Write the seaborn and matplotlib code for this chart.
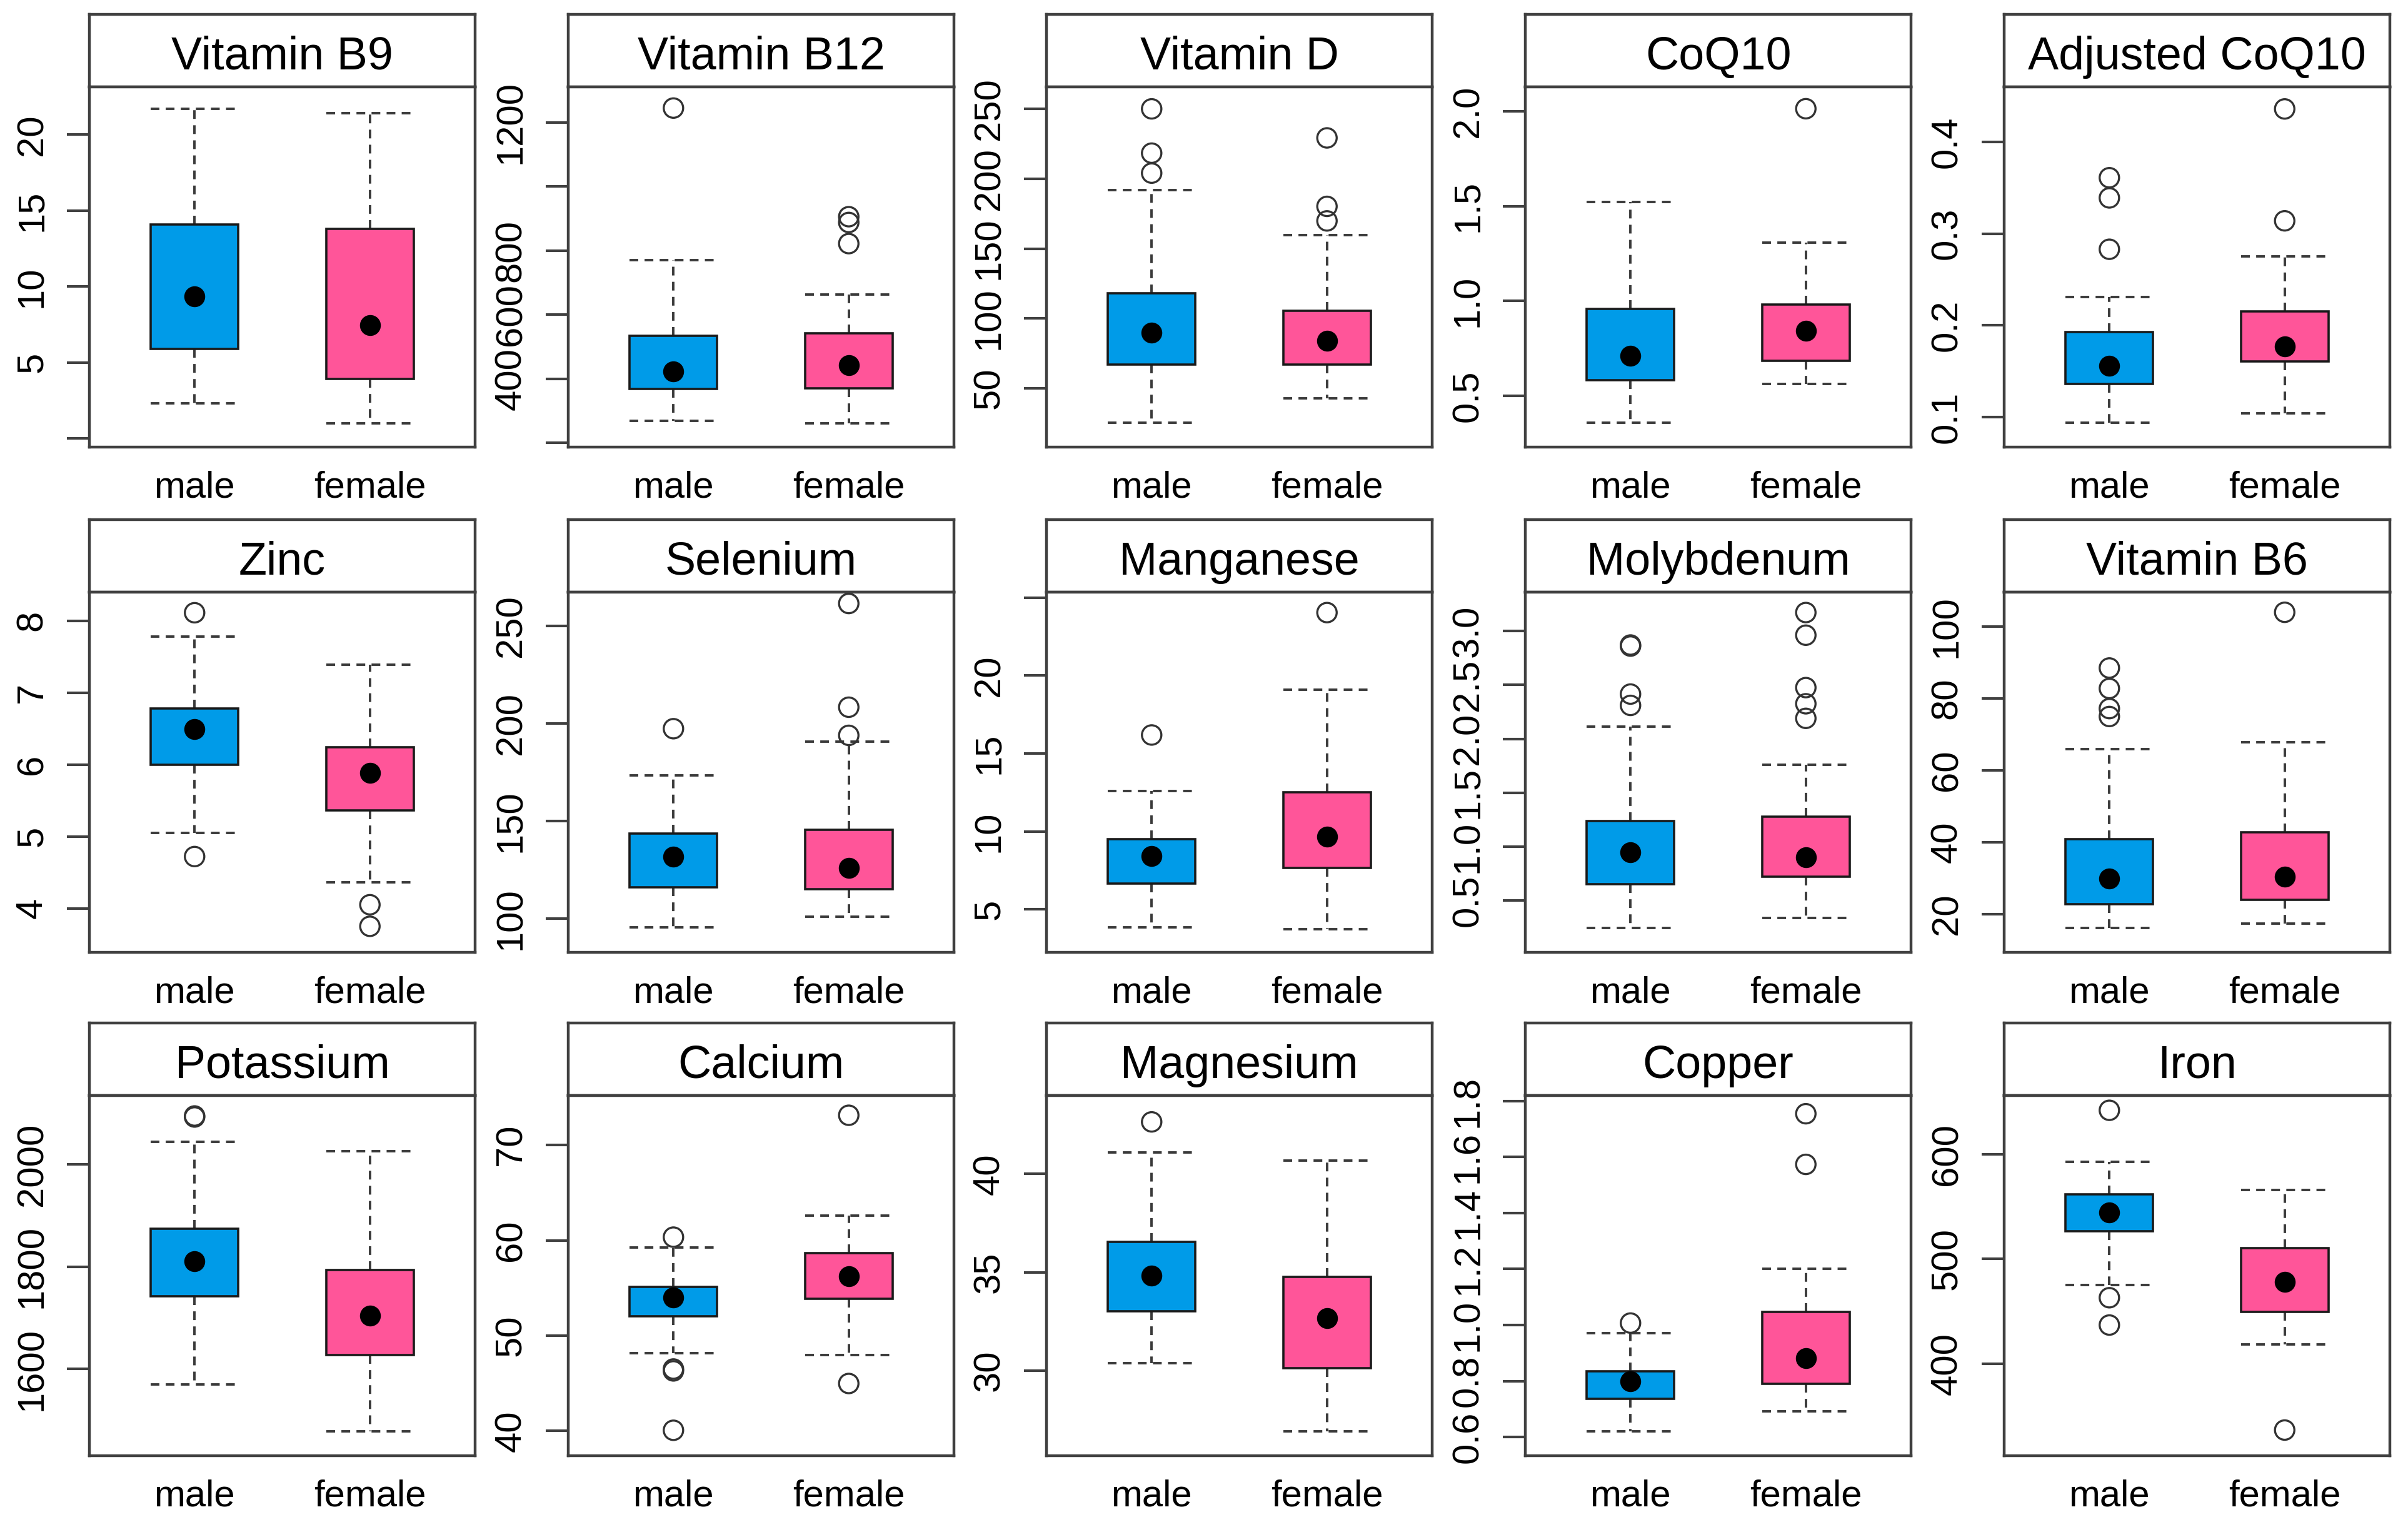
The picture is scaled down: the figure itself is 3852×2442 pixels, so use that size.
import matplotlib
matplotlib.use('Agg')
import matplotlib.pyplot as plt
import seaborn as sns
import pandas as pd

# ---------------- data ----------------
panel_names = ["Vitamin B9", "Vitamin B12", "Vitamin D", "CoQ10", "Adjusted CoQ10",
               "Zinc", "Selenium", "Manganese", "Molybdenum", "Vitamin B6",
               "Potassium", "Calcium", "Magnesium", "Copper", "Iron"]
groups = ["male", "female"]

male_whislo = [2.3, 268, 25.3, 0.357, 0.094, 5.05, 95.7, 3.85, 0.248, 16.2, 1569, 48.14, 30.38, 0.621, 474.9]
male_q1     = [5.9, 368, 66.9, 0.582, 0.136, 6.00, 116.0, 6.65, 0.650, 22.7, 1742, 52.03, 33.02, 0.736, 526.3]
male_med    = [9.36, 424, 90.0, 0.710, 0.156, 6.49, 131.8, 8.44, 0.950, 29.9, 1811, 54.02, 34.82, 0.798, 544.4]
male_q3     = [14.1, 535, 118.2, 0.958, 0.193, 6.78, 143.7, 9.52, 1.238, 40.9, 1874, 55.12, 36.54, 0.835, 561.9]
male_whishi = [21.7, 771, 191.7, 1.521, 0.231, 7.78, 173.5, 12.6, 2.115, 65.9, 2045, 59.24, 41.08, 0.972, 592.4]
male_outliers = [[], [1245], [250, 218.3, 204], [], [0.361, 0.339, 0.283],
                 [8.11, 4.72], [197.3], [16.19], [2.87, 2.86, 2.415, 2.31], [88.5, 82.8, 77.2, 75.0],
                 [2095, 2093], [60.34, 46.5, 46.3, 40.07], [42.65], [1.007], [641.9, 462.9, 436.8]]

female_whislo = [1.0, 262, 43.0, 0.561, 0.104, 4.36, 100.9, 3.75, 0.338, 17.3, 1478, 47.97, 26.90, 0.692, 418.4]
female_q1     = [3.9, 370, 66.9, 0.684, 0.161, 5.36, 115.1, 7.65, 0.719, 24.05, 1627, 53.88, 30.11, 0.789, 449.5]
female_med    = [7.45, 442, 84.2, 0.843, 0.177, 5.88, 125.9, 9.67, 0.899, 30.5, 1704, 56.22, 32.66, 0.882, 478.1]
female_q3     = [13.8, 542, 105.5, 0.982, 0.215, 6.24, 145.7, 12.5, 1.280, 42.7, 1794, 58.63, 34.77, 1.047, 510.5]
female_whishi = [21.4, 664, 159.8, 1.308, 0.275, 7.39, 190.8, 19.1, 1.760, 67.9, 2026, 62.60, 40.67, 1.201, 566.0]
female_outliers = [[], [906, 888, 822], [229.2, 180.2, 169.8], [2.014], [0.436, 0.314],
                   [4.05, 3.75], [261.4, 208.3, 193.9], [24.04], [3.171, 2.961, 2.475, 2.325, 2.19], [104.0],
                   [], [73.13, 44.98], [], [1.755, 1.574], [336.5]]

y_ticks = [[0, 5, 10, 15, 20], [200, 400, 600, 800, 1000, 1200], [50, 100, 150, 200, 250],
           [0.5, 1.0, 1.5, 2.0], [0.1, 0.2, 0.3, 0.4],
           [4, 5, 6, 7, 8], [100, 150, 200, 250], [5, 10, 15, 20, 25],
           [0.5, 1.0, 1.5, 2.0, 2.5, 3.0], [20, 40, 60, 80, 100],
           [1600, 1800, 2000], [40, 50, 60, 70], [30, 35, 40],
           [0.6, 0.8, 1.0, 1.2, 1.4, 1.6, 1.8], [400, 500, 600]]
y_ticklabels = [["", "5", "10", "15", "20"], ["", "400", "600", "800", "", "1200"],
                ["50", "100", "150", "200", "250"], ["0.5", "1.0", "1.5", "2.0"],
                ["0.1", "0.2", "0.3", "0.4"],
                ["4", "5", "6", "7", "8"], ["100", "150", "200", "250"], ["5", "10", "15", "20", ""],
                ["0.5", "1.0", "1.5", "2.0", "2.5", "3.0"], ["20", "40", "60", "80", "100"],
                ["1600", "1800", "2000"], ["40", "50", "60", "70"], ["30", "35", "40"],
                ["0.6", "0.8", "1.0", "1.2", "1.4", "1.6", "1.8"], ["400", "500", "600"]]

# ---------------- layout / style ----------------
y_limits = [(-0.57, 23.15), (187, 1311), (7.9, 265.7), (0.229, 2.129), (0.0673, 0.46),
            (3.388, 8.396), (82.8, 267.2), (2.25, 25.35), (0.02, 3.36), (9.37, 109.6),
            (1430, 2135), (37.4, 75.2), (25.67, 43.99), (0.533, 1.82), (312, 656)]

box_colors = ["#009BE8", "#FF5599"]
frame_col = "#404040"

sns.set_theme(style="white")
plt.rcParams['font.family'] = ['Liberation Sans', 'DejaVu Sans']

W, H = 3852, 2442
fig = plt.figure(figsize=(W / 100, H / 100), dpi=100)
fig.patch.set_facecolor("white")

col_left = [143, 909, 1674, 2440, 3206]
row_top = [23, 831, 1636]
pw, sh, ph = 617, 116, 576

for i, name in enumerate(panel_names):
    r, c = divmod(i, 5)
    x0, y0 = col_left[c], row_top[r]
    ax_s = fig.add_axes([x0 / W, 1 - (y0 + sh) / H, pw / W, sh / H])
    ax = fig.add_axes([x0 / W, 1 - (y0 + sh + ph) / H, pw / W, ph / H])

    # strip
    ax_s.set_xticks([]); ax_s.set_yticks([])
    for sp in ax_s.spines.values():
        sp.set_color(frame_col); sp.set_linewidth(3.2)
    ax_s.text(0.5, 0.245, name, ha="center", va="baseline", fontsize=53,
              color="black", transform=ax_s.transAxes)

    stats = [
        dict(whislo=male_whislo[i], q1=male_q1[i], med=male_med[i], q3=male_q3[i],
             whishi=male_whishi[i], fliers=[]),
        dict(whislo=female_whislo[i], q1=female_q1[i], med=female_med[i], q3=female_q3[i],
             whishi=female_whishi[i], fliers=[]),
    ]
    dash = (0, (3.6, 2.6))
    bp = ax.bxp(stats, positions=[1, 2], widths=0.5, capwidths=0.5, patch_artist=True,
                showfliers=False,
                boxprops=dict(edgecolor="#1a1a1a", linewidth=2.6),
                whiskerprops=dict(color="#3a3a3a", linewidth=2.8, linestyle=dash),
                capprops=dict(color="#3a3a3a", linewidth=2.8, linestyle=dash),
                medianprops=dict(linewidth=0, alpha=0))
    for patch, col in zip(bp["boxes"], box_colors):
        patch.set_facecolor(col)
    for w in bp["whiskers"]:
        w.set_zorder(1)
    for b in bp["boxes"]:
        b.set_zorder(2)

    # outliers
    ox = [1] * len(male_outliers[i]) + [2] * len(female_outliers[i])
    oy = list(male_outliers[i]) + list(female_outliers[i])
    if oy:
        df_o = pd.DataFrame({"pos": ox, "val": oy})
        sns.scatterplot(data=df_o, x="pos", y="val", ax=ax, marker="o", s=500,
                        facecolors="none", edgecolors="#333333", linewidth=2.4,
                        zorder=4, legend=False)
    # medians as dots
    df_m = pd.DataFrame({"pos": [1, 2], "val": [male_med[i], female_med[i]]})
    sns.scatterplot(data=df_m, x="pos", y="val", ax=ax, marker="o", s=580,
                    color="black", edgecolor="black", linewidth=0, zorder=5, legend=False)

    ax.set_xlim(0.4, 2.6)
    ax.set_ylim(*y_limits[i])
    ax.set_xlabel(""); ax.set_ylabel("")
    ax.set_xticks([1, 2])
    ax.set_xticklabels(groups)
    ax.set_yticks(y_ticks[i])
    ax.set_yticklabels(y_ticklabels[i], rotation=90, va="center")
    ax.tick_params(axis="x", length=0, pad=27, labelsize=43, colors="black")
    ax.tick_params(axis="y", left=True, length=26, width=3.0, pad=20, labelsize=43,
                   color=frame_col, labelcolor="black", direction="out")
    for sp in ax.spines.values():
        sp.set_color(frame_col); sp.set_linewidth(3.2)
    ax.grid(False)

fig.savefig("out.png", dpi=100, facecolor="white")
